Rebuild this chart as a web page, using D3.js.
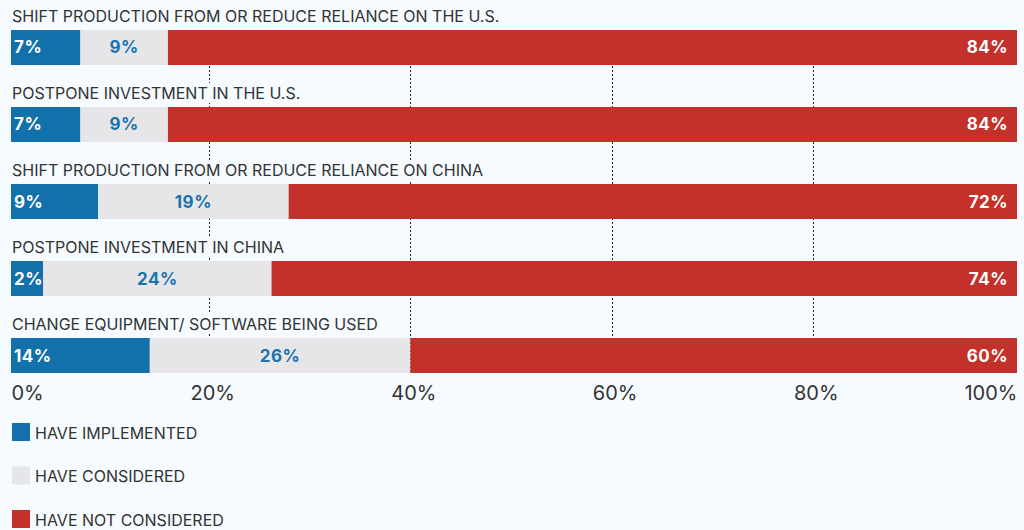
<!DOCTYPE html>
<html><head><meta charset="utf-8">
<script src="https://cdn.jsdelivr.net/npm/d3@7"></script>
<style>
html,body{margin:0;padding:0;background:#f5fbfe;}
svg{display:block;font-family:Inter,"Noto Sans",sans-serif;}
</style></head>
<body><svg id="c" width="1024" height="530"></svg>
<script>
const categories = [
  "SHIFT PRODUCTION FROM OR REDUCE RELIANCE ON THE U.S.",
  "POSTPONE INVESTMENT IN THE U.S.",
  "SHIFT PRODUCTION FROM OR REDUCE RELIANCE ON CHINA",
  "POSTPONE INVESTMENT IN CHINA",
  "CHANGE EQUIPMENT/ SOFTWARE BEING USED"
];
const implemented = [6.9, 6.9, 8.65, 3.2, 13.8];
const considered = [8.7, 8.7, 18.95, 22.7, 25.9];
const notConsidered = [84.4, 84.4, 72.4, 74.1, 60.3];
const implementedLabels = ["7%", "7%", "9%", "2%", "14%"];
const consideredLabels = ["9%", "9%", "19%", "24%", "26%"];
const notConsideredLabels = ["84%", "84%", "72%", "74%", "60%"];
const seriesNames = ["HAVE IMPLEMENTED", "HAVE CONSIDERED", "HAVE NOT CONSIDERED"];
const tickValues = [0, 20, 40, 60, 80, 100];
const tickLabels = ["0%", "20%", "40%", "60%", "80%", "100%"];

const colors = ["#1271ab", "#e6e6e8", "#c4312b"];
const labelColors = ["#ffffff", "#1a72b0", "#ffffff"];

const svg = d3.select("#c");
const x = d3.scaleLinear().domain([0, 100]).range([11, 1017]);
const y = d3.scaleBand().domain(categories).range([30, 373]).paddingInner(0.5455).paddingOuter(0).align(0);

const rows = categories.map((c, i) => {
  const vals = [implemented[i], considered[i], notConsidered[i]];
  const labs = [implementedLabels[i], consideredLabels[i], notConsideredLabels[i]];
  let acc = 0;
  return vals.map((v, k) => { const s = {cat: c, k, x0: acc, x1: acc + v, label: labs[k]}; acc += v; return s; });
});

// gridlines
svg.append("g").attr("transform", "translate(-2,0)")
  .selectAll("line").data(tickValues.slice(1, 5)).join("line")
  .attr("x1", d => Math.round(x(d)) - 0.5).attr("x2", d => Math.round(x(d)) - 0.5)
  .attr("y1", y.range()[0]).attr("y2", y.range()[1])
  .attr("stroke", "#222").attr("stroke-width", 1).attr("stroke-dasharray", "2,2");

// category labels with background
const lab = svg.append("g").selectAll("g").data(categories).join("g");
lab.append("text").attr("x", 12).attr("y", d => y(d) - 8)
  .attr("font-size", 16).attr("fill", "#333").text(d => d)
  .each(function () {
    const b = this.getBBox();
    d3.select(this.parentNode).insert("rect", "text")
      .attr("x", b.x - 2).attr("y", b.y).attr("width", b.width + 4).attr("height", b.height)
      .attr("fill", "#f5fbfe");
  });

// bars
const seg = svg.append("g").selectAll("g").data(rows).join("g")
  .selectAll("g").data(d => d).join("g");
seg.append("rect")
  .attr("x", d => x(d.x0)).attr("width", d => x(d.x1) - x(d.x0))
  .attr("y", d => y(d.cat)).attr("height", y.bandwidth())
  .attr("fill", d => colors[d.k]);
seg.append("text")
  .attr("x", d => d.k === 0 ? x(d.x0) + 3 : d.k === 1 ? (x(d.x0) + x(d.x1)) / 2 : x(d.x1) - 9)
  .attr("text-anchor", d => d.k === 0 ? "start" : d.k === 1 ? "middle" : "end")
  .attr("y", d => y(d.cat) + y.bandwidth() / 2 + 6)
  .attr("font-size", 17).attr("font-weight", 700).attr("letter-spacing", 0.5)
  .attr("fill", d => labelColors[d.k]).text(d => d.label);

// axis
const axis = svg.append("g").attr("transform", "translate(0,400)")
  .call(d3.axisBottom(x).tickValues(tickValues).tickSize(0).tickPadding(0).tickFormat((d, i) => tickLabels[i]));
axis.select(".domain").remove();
axis.selectAll("text").attr("font-size", 20).attr("fill", "#333").attr("dy", 0).attr("y", 0)
  .style("font-family", "Inter,'Noto Sans',sans-serif")
  .attr("text-anchor", (d, i) => i === 0 ? "start" : i === tickValues.length - 1 ? "end" : "middle");

// legend
const leg = svg.append("g").selectAll("g").data(seriesNames).join("g")
  .attr("transform", (d, i) => `translate(12,${423 + i * 43.5})`);
leg.append("rect").attr("width", 18).attr("height", 18).attr("fill", (d, i) => colors[i]);
leg.append("text").attr("x", 23).attr("y", 15.5).attr("font-size", 16).attr("fill", "#333").text(d => d);
</script></body></html>
